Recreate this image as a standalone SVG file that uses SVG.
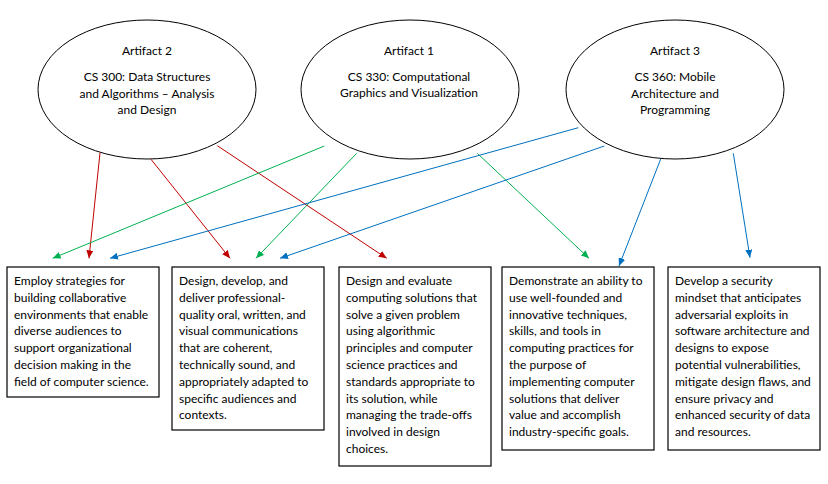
<svg xmlns="http://www.w3.org/2000/svg" width="828" height="484" viewBox="0 0 828 484">
<style>
.bg{fill:#ffffff}
.ell{fill:#ffffff;stroke:#000000;stroke-width:1}
.box{fill:#ffffff;stroke:#000000;stroke-width:1.2}
text{font-family:Lato,"Open Sans","Liberation Sans",sans-serif;font-size:12px;fill:#000000}
.c{text-anchor:middle}
.r{stroke:#C00000;stroke-width:1;fill:none}
.g{stroke:#00B050;stroke-width:1;fill:none}
.b{stroke:#0070C0;stroke-width:1;fill:none}
</style>
<defs>
<marker id="ar" markerUnits="userSpaceOnUse" markerWidth="9" markerHeight="7" refX="8" refY="3.5" orient="auto"><path d="M0,0 L8,3.5 L0,7 Z" fill="#C00000"/></marker>
<marker id="ag" markerUnits="userSpaceOnUse" markerWidth="9" markerHeight="7" refX="8" refY="3.5" orient="auto"><path d="M0,0 L8,3.5 L0,7 Z" fill="#00B050"/></marker>
<marker id="ab" markerUnits="userSpaceOnUse" markerWidth="9" markerHeight="7" refX="8" refY="3.5" orient="auto"><path d="M0,0 L8,3.5 L0,7 Z" fill="#0070C0"/></marker>
</defs>
<rect class="bg" x="0" y="0" width="828" height="484"/>

<g id="artifact2">
<ellipse class="ell" cx="147" cy="89.5" rx="109" ry="69.5"/>
<text class="c" x="147" y="55">Artifact 2</text>
<text class="c" x="147" y="81">CS 300: Data Structures</text>
<text class="c" x="147" y="98">and Algorithms – Analysis</text>
<text class="c" x="147" y="114">and Design</text>
</g>
<g id="artifact1">
<ellipse class="ell" cx="410" cy="89.5" rx="109" ry="69.5"/>
<text class="c" x="409" y="55">Artifact 1</text>
<text class="c" x="409" y="81">CS 330: Computational</text>
<text class="c" x="409" y="97">Graphics and Visualization</text>
</g>
<g id="artifact3">
<ellipse class="ell" cx="675" cy="89.5" rx="109" ry="69.5"/>
<text class="c" x="675" y="55">Artifact 3</text>
<text class="c" x="675" y="81">CS 360: Mobile</text>
<text class="c" x="675" y="98">Architecture and</text>
<text class="c" x="675" y="114">Programming</text>
</g>

<g id="connectors">
<line class="r" x1="100" y1="152.7" x2="89" y2="258.3" marker-end="url(#ar)"/>
<line class="r" x1="151" y1="159.3" x2="230" y2="258.3" marker-end="url(#ar)"/>
<line class="r" x1="217.3" y1="145.7" x2="386.7" y2="258.3" marker-end="url(#ar)"/>
<line class="g" x1="324.3" y1="146" x2="52.7" y2="258.3" marker-end="url(#ag)"/>
<line class="g" x1="356.7" y1="153.3" x2="256" y2="258.3" marker-end="url(#ag)"/>
<line class="g" x1="477.3" y1="153.3" x2="589" y2="258.3" marker-end="url(#ag)"/>
<line class="b" x1="578.3" y1="127.7" x2="110" y2="258.3" marker-end="url(#ab)"/>
<line class="b" x1="604.3" y1="146" x2="280" y2="258.3" marker-end="url(#ab)"/>
<line class="b" x1="660.7" y1="159" x2="619" y2="266" marker-end="url(#ab)"/>
<line class="b" x1="733.3" y1="153.3" x2="750" y2="257.7" marker-end="url(#ab)"/>
</g>

<g id="outcome1">
<rect class="box" x="7" y="267" width="152" height="130"/>
<text x="14" y="285">Employ strategies for</text>
<text x="14" y="301.8">building collaborative</text>
<text x="14" y="318.6">environments that enable</text>
<text x="14" y="335.4">diverse audiences to</text>
<text x="14" y="352.2">support organizational</text>
<text x="14" y="369">decision making in the</text>
<text x="14" y="385.8">field of computer science.</text>
</g>
<g id="outcome2">
<rect class="box" x="172" y="267" width="152" height="163"/>
<text x="179" y="285">Design, develop, and</text>
<text x="179" y="301.8">deliver professional-</text>
<text x="179" y="318.6">quality oral, written, and</text>
<text x="179" y="335.4">visual communications</text>
<text x="179" y="352.2">that are coherent,</text>
<text x="179" y="369">technically sound, and</text>
<text x="179" y="385.8">appropriately adapted to</text>
<text x="179" y="402.6">specific audiences and</text>
<text x="179" y="419.4">contexts.</text>
</g>
<g id="outcome3">
<rect class="box" x="339" y="267" width="152" height="199"/>
<text x="346" y="285">Design and evaluate</text>
<text x="346" y="301.8">computing solutions that</text>
<text x="346" y="318.6">solve a given problem</text>
<text x="346" y="335.4">using algorithmic</text>
<text x="346" y="352.2">principles and computer</text>
<text x="346" y="369">science practices and</text>
<text x="346" y="385.8">standards appropriate to</text>
<text x="346" y="402.6">its solution, while</text>
<text x="346" y="419.4">managing the trade-offs</text>
<text x="346" y="436.2">involved in design</text>
<text x="346" y="453">choices.</text>
</g>
<g id="outcome4">
<rect class="box" x="502" y="267" width="152" height="183"/>
<text x="509" y="285">Demonstrate an ability to</text>
<text x="509" y="301.8">use well-founded and</text>
<text x="509" y="318.6">innovative techniques,</text>
<text x="509" y="335.4">skills, and tools in</text>
<text x="509" y="352.2">computing practices for</text>
<text x="509" y="369">the purpose of</text>
<text x="509" y="385.8">implementing computer</text>
<text x="509" y="402.6">solutions that deliver</text>
<text x="509" y="419.4">value and accomplish</text>
<text x="509" y="436.2">industry-specific goals.</text>
</g>
<g id="outcome5">
<rect class="box" x="668" y="267" width="152" height="183"/>
<text x="675" y="285">Develop a security</text>
<text x="675" y="301.8">mindset that anticipates</text>
<text x="675" y="318.6">adversarial exploits in</text>
<text x="675" y="335.4">software architecture and</text>
<text x="675" y="352.2">designs to expose</text>
<text x="675" y="369">potential vulnerabilities,</text>
<text x="675" y="385.8">mitigate design flaws, and</text>
<text x="675" y="402.6">ensure privacy and</text>
<text x="675" y="419.4">enhanced security of data</text>
<text x="675" y="436.2">and resources.</text>
</g>
</svg>
